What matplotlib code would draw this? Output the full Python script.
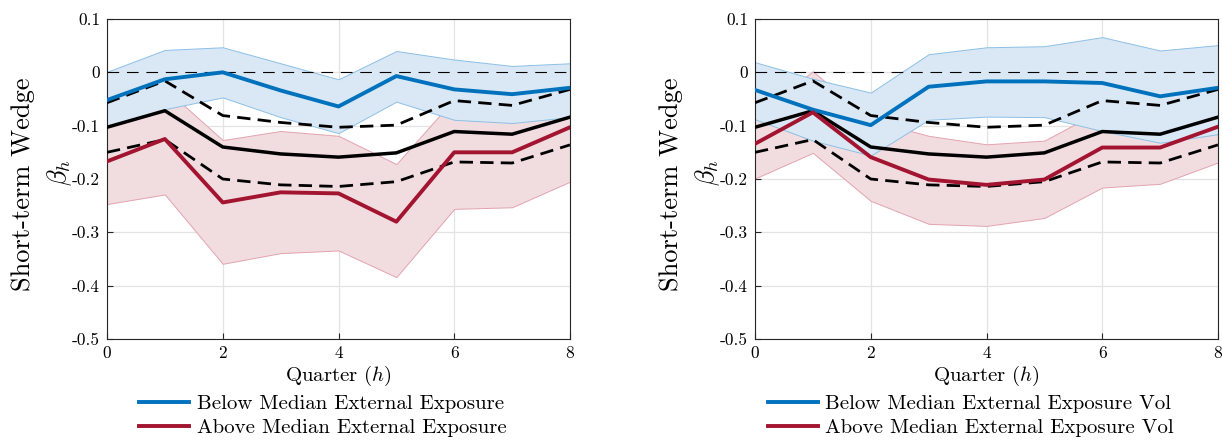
import matplotlib
matplotlib.use("Agg")
import matplotlib.pyplot as plt
import numpy as np

plt.rcParams['font.family'] = 'serif'
plt.rcParams['font.serif'] = ['cmr10']
plt.rcParams['mathtext.fontset'] = 'cm'
plt.rcParams['axes.unicode_minus'] = False

# horizon
quarters = [0, 1, 2, 3, 4, 5, 6, 7, 8]

# pooled estimate (same in both panels)
pooled = [-0.103, -0.072, -0.140, -0.153, -0.159, -0.151, -0.111, -0.116, -0.084]
pooled_hi = [-0.057, -0.016, -0.081, -0.094, -0.103, -0.099, -0.053, -0.062, -0.032]
pooled_lo = [-0.150, -0.126, -0.200, -0.211, -0.214, -0.205, -0.168, -0.170, -0.136]

# left panel: external exposure
left_below = [-0.052, -0.013, 0.000, -0.034, -0.064, -0.007, -0.032, -0.041, -0.029]
left_below_hi = [0.001, 0.042, 0.047, 0.017, -0.013, 0.040, 0.024, 0.012, 0.017]
left_below_lo = [-0.102, -0.069, -0.047, -0.084, -0.114, -0.055, -0.089, -0.095, -0.084]
left_above = [-0.167, -0.125, -0.244, -0.225, -0.227, -0.280, -0.150, -0.150, -0.103]
left_above_hi = [-0.090, -0.030, -0.127, -0.110, -0.119, -0.172, -0.050, -0.060, -0.050]
left_above_lo = [-0.247, -0.229, -0.359, -0.339, -0.334, -0.384, -0.256, -0.253, -0.205]

# right panel: external exposure volatility
right_below = [-0.033, -0.070, -0.099, -0.027, -0.017, -0.017, -0.020, -0.045, -0.029]
right_below_hi = [0.019, -0.012, -0.038, 0.034, 0.047, 0.049, 0.066, 0.041, 0.051]
right_below_lo = [-0.088, -0.128, -0.156, -0.089, -0.083, -0.084, -0.110, -0.132, -0.116]
right_above = [-0.134, -0.075, -0.159, -0.201, -0.211, -0.201, -0.141, -0.141, -0.102]
right_above_hi = [-0.080, 0.002, -0.090, -0.119, -0.135, -0.128, -0.070, -0.075, -0.040]
right_above_lo = [-0.199, -0.151, -0.241, -0.284, -0.288, -0.273, -0.216, -0.209, -0.169]

y_ticks = [0.1, 0, -0.1, -0.2, -0.3, -0.4, -0.5]
y_ticklabels = ["0.1", "0", "-0.1", "-0.2", "-0.3", "-0.4", "-0.5"]
x_ticks = [0, 2, 4, 6, 8]

blue = "#0072BD"
red = "#A2142F"
blue_fill = "#D9E8F4"
red_fill = "#F1DCE0"

W, H = 1222, 440
fig = plt.figure(figsize=(W / 100, H / 100), dpi=100)

panels = [
    (107, left_below, left_below_hi, left_below_lo, left_above, left_above_hi, left_above_lo,
     ["Below Median External Exposure", "Above Median External Exposure"]),
    (755, right_below, right_below_hi, right_below_lo, right_above, right_above_hi, right_above_lo,
     ["Below Median External Exposure Vol", "Above Median External Exposure Vol"]),
]

for x0, b, bh, bl, a, ah, al, labels in panels:
    ax = fig.add_axes([x0 / W, 1 - 339 / H, 463 / W, 320 / H])

    # bands
    ax.fill_between(quarters, al, ah, facecolor=red_fill, edgecolor="#E3A3AE", lw=0.7, zorder=1)
    ax.fill_between(quarters, bl, bh, facecolor=blue_fill, edgecolor="#8CC0E6", lw=0.7, zorder=2)

    ax.axhline(0, color="black", lw=0.8, dashes=(10.5, 7), zorder=3)

    # pooled
    ax.plot(quarters, pooled_hi, color="black", lw=2, dashes=(4.8, 2.6), zorder=4)
    ax.plot(quarters, pooled_lo, color="black", lw=2, dashes=(4.8, 2.6), zorder=4)
    ax.plot(quarters, pooled, color="black", lw=2.5, zorder=5)

    lb, = ax.plot(quarters, b, color=blue, lw=2.8, zorder=6)
    la, = ax.plot(quarters, a, color=red, lw=2.8, zorder=6)

    ax.set_xlim(0, 8)
    ax.set_ylim(-0.5, 0.1)
    ax.set_xticks(x_ticks)
    ax.set_yticks(y_ticks)
    ax.set_yticklabels(y_ticklabels)
    ax.tick_params(direction="in", length=4, width=0.8, labelsize=12.5, color="#262626", pad=5)
    ax.grid(True, color="#E3E3E3", lw=0.9)
    ax.set_axisbelow(True)
    for s in ax.spines.values():
        s.set_color("#262626")
        s.set_linewidth(0.8)

    ax.set_xlabel("Quarter ($h$)", fontsize=15, labelpad=2)

    fig.text((x0 - 84) / W, 1 - 184 / H, "Short-term Wedge", rotation=90,
             fontsize=19, ha="center", va="center")
    fig.text((x0 - 47) / W, 1 - 172 / H, r"$\beta_h$", rotation=90,
             fontsize=19, ha="center", va="center")

    fig.legend([lb, la], labels, loc="center", frameon=False, fontsize=15,
               bbox_to_anchor=((x0 + 216) / W, 1 - 416 / H),
               handlelength=2.4, handletextpad=0.35, labelspacing=0.25, borderpad=0)

fig.savefig("out.png", dpi=100)
